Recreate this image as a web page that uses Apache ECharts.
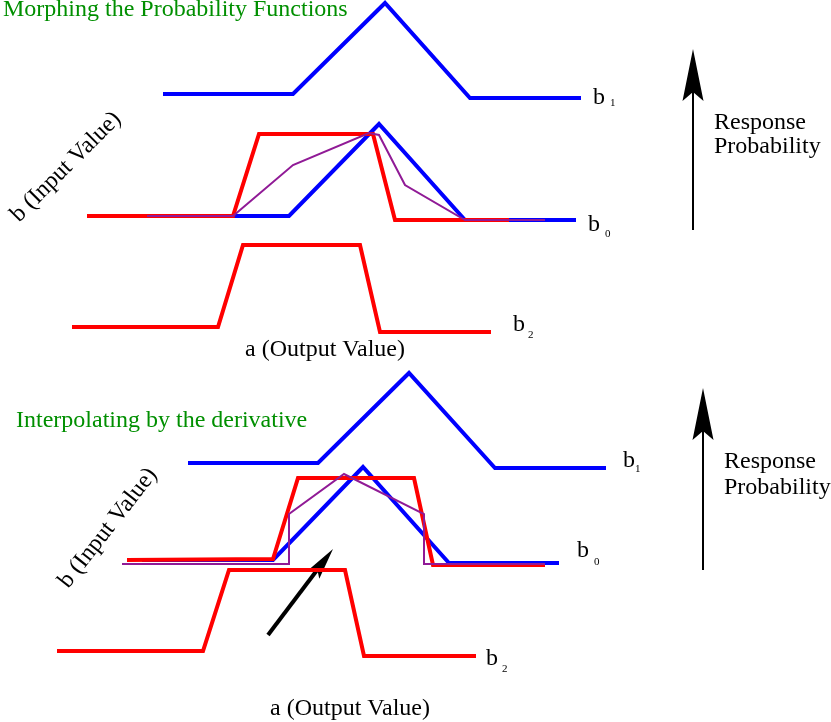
<!DOCTYPE html>
<html>
<head>
<meta charset="utf-8">
<script src="https://cdn.jsdelivr.net/npm/echarts@6/dist/echarts.min.js"></script>
<style>
  html, body { margin: 0; padding: 0; background: #fff; }
  #main { width: 831px; height: 722px; }
</style>
</head>
<body>
<div id="main"></div>
<script>
// points are [a, b] in the figure's own units (x right, y down)
// top panel: morphing
let topB1 = [[163, 94], [293, 94], [385, 3], [470, 98], [581, 98]];
let topB0 = [[158, 216], [289, 216], [379, 124], [465, 220], [576, 220]];
let topRed = [[87, 216], [233, 216], [259, 134], [373, 134], [395, 220], [509, 220]];
let topMorph = [[147, 216], [233, 216], [293, 165], [369, 133], [379, 135], [405, 185], [465, 220], [545, 220]];
let topB2 = [[72, 327], [218, 327], [243, 245], [360, 245], [380, 332], [491, 332]];

// bottom panel: derivative interpolation
let botB1 = [[188, 463], [318, 463], [409, 373], [495, 468], [606, 468]];
let botB0 = [[142, 560], [273, 560], [363, 467], [449, 563], [559, 563]];
let botRed = [[127, 560], [273, 559], [298, 478], [414, 478], [433, 565], [545, 565]];
let botDeriv = [[122, 564], [289, 564], [289, 514], [344, 474], [424, 514], [424, 564], [545, 564]];
let botB2 = [[57, 651], [203, 651], [229, 570], [345, 570], [364, 656], [476, 656]];

// arrows: [fromX, fromY, tipX, tipY]
let arrows = [
  [693, 230, 693, 49],
  [703, 570, 703, 388],
  [268, 635, 333, 549],
];
// head length, head width, notch, shaft width
let arrowStyle = [
  [52, 21, 9, 2],
  [52, 21, 9, 2],
  [32, 14, 6, 4],
];

let BLUE = "#0000ff";
let RED = "#ff0000";
let PURPLE = "#901a96";
let GREEN = "#008f00";
let FONT = "Liberation Serif";
let FS = 24;

let myChart = document.getElementById("main");
let initChart = echarts.init(myChart, null, { renderer: "canvas" });

let line = (data, color, width) => ({
  type: "line",
  data: data,
  symbol: "none",
  silent: true,
  lineStyle: { color: color, width: width, join: "miter", cap: "butt" },
});

let txt = (text, x, y, size, extra) => ({
  type: "text",
  x: x,
  y: y,
  silent: true,
  style: Object.assign(
    {
      text: text,
      fontFamily: FONT,
      fontSize: size,
      fill: "#000",
      align: "left",
      verticalAlign: "middle",
    },
    extra || {}
  ),
});

let bLabel = (x, y, sub, sx, sy) => [txt("b", x, y, FS), txt(sub, sx, sy, 11)];

let option = {
  animation: false,
  grid: { left: 0, right: 0, top: 0, bottom: 0 },
  xAxis: { type: "value", min: 0, max: 831, show: false },
  yAxis: { type: "value", min: 0, max: 722, inverse: true, show: false },
  series: [
    line(topB1, BLUE, 4),
    line(topB0, BLUE, 4),
    line(topRed, RED, 4),
    line(topMorph, PURPLE, 2),
    line(topB2, RED, 4),

    line(botB1, BLUE, 4),
    line(botB2, RED, 4),
    line(botB0, BLUE, 4),
    line(botRed, RED, 4),
    line(botDeriv, PURPLE, 2),

    {
      type: "custom",
      silent: true,
      data: arrows,
      renderItem: (params, api) => {
        let i = params.dataIndex;
        let [hl, hw, notch, sw] = arrowStyle[i];
        let p1 = api.coord([api.value(0), api.value(1)]);
        let p2 = api.coord([api.value(2), api.value(3)]);
        let dx = p2[0] - p1[0];
        let dy = p2[1] - p1[1];
        let len = Math.sqrt(dx * dx + dy * dy);
        let ux = dx / len, uy = dy / len;
        let nx = -uy, ny = ux;
        let bx = p2[0] - ux * hl, by = p2[1] - uy * hl;
        let mx = p2[0] - ux * (hl - notch), my = p2[1] - uy * (hl - notch);
        return {
          type: "group",
          children: [
            {
              type: "line",
              shape: { x1: p1[0], y1: p1[1], x2: mx, y2: my },
              style: { stroke: "#000", lineWidth: sw },
            },
            {
              type: "polygon",
              shape: {
                points: [
                  p2,
                  [bx + nx * hw / 2, by + ny * hw / 2],
                  [mx, my],
                  [bx - nx * hw / 2, by - ny * hw / 2],
                ],
              },
              style: { fill: "#000" },
            },
          ],
        };
      },
    },
  ],
  graphic: [
    txt("Morphing the Probability Functions", 3, 10, FS, { fill: GREEN }),
    txt("Interpolating by the derivative", 16, 421, FS, { fill: GREEN }),

    {
      type: "text",
      x: 66,
      y: 167,
      rotation: (45 * Math.PI) / 180,
      silent: true,
      style: { text: "b (Input Value)", fontFamily: FONT, fontSize: FS, fill: "#000", align: "center", verticalAlign: "middle" },
    },
    {
      type: "text",
      x: 108,
      y: 528,
      rotation: (52 * Math.PI) / 180,
      silent: true,
      style: { text: "b (Input Value)", fontFamily: FONT, fontSize: FS, fill: "#000", align: "center", verticalAlign: "middle" },
    },

    txt("a (Output Value)", 325, 350, FS, { align: "center" }),
    txt("a (Output Value)", 350, 709, FS, { align: "center" }),

    txt("Response", 714, 123, FS),
    txt("Probability", 714, 147, FS),
    txt("Response", 724, 462, FS),
    txt("Probability", 724, 488, FS),

    ...bLabel(593, 98, "1", 610, 103),
    ...bLabel(588, 225, "0", 605, 234),
    ...bLabel(513, 325, "2", 528, 335),
    ...bLabel(623, 461, "1", 635, 469),
    ...bLabel(577, 551, "0", 594, 562),
    ...bLabel(486, 659, "2", 502, 669),
  ],
};

initChart.setOption(option);
</script>
</body>
</html>
